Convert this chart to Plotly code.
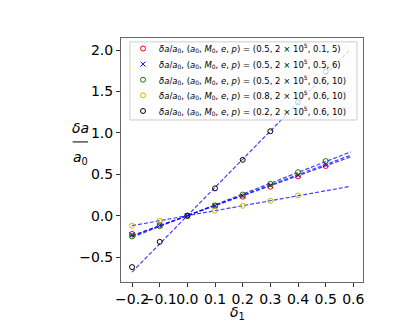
import plotly.graph_objects as go

# delta_1 values where the points were computed
delta1 = [-0.2, -0.1, 0.0, 0.1, 0.2, 0.3, 0.4, 0.5]
delta1_yellow = [-0.2, -0.1, 0.0, 0.1, 0.2, 0.3, 0.4]

# delta a / a0 for each parameter set
red_vals = [-0.22, -0.11, 0.0, 0.115, 0.23, 0.35, 0.475, 0.60]
blue_vals = [-0.23, -0.115, 0.0, 0.12, 0.24, 0.365, 0.49, 0.62]
green_vals = [-0.25, -0.125, 0.0, 0.125, 0.255, 0.385, 0.525, 0.66]
yellow_vals = [-0.12, -0.06, 0.0, 0.06, 0.12, 0.18, 0.245]
black_vals = [-0.62, -0.315, 0.0, 0.33, 0.675, 1.02, 1.37, 1.74]

# linear fit lines (endpoints)
fit_x = [-0.2, 0.59]
fit_red = [-0.24, 0.71]
fit_blue = [-0.245, 0.73]
fit_green = [-0.26, 0.77]
fit_yellow = [-0.12, 0.355]
fit_black = [-0.68, 2.01]

params = ["(0.5, 2 × 10<sup>5</sup>, 0.1, 5)",
          "(0.5, 2 × 10<sup>5</sup>, 0.5, 6)",
          "(0.5, 2 × 10<sup>5</sup>, 0.6, 10)",
          "(0.8, 2 × 10<sup>5</sup>, 0.6, 10)",
          "(0.2, 2 × 10<sup>5</sup>, 0.6, 10)"]

x_ticks = [-0.2, -0.1, 0.0, 0.1, 0.2, 0.3, 0.4, 0.5, 0.6]
x_tick_labels = ["−0.2", "−0.1", "0.0", "0.1", "0.2", "0.3", "0.4", "0.5", "0.6"]
y_ticks = [-0.5, 0.0, 0.5, 1.0, 1.5, 2.0]
y_tick_labels = ["−0.5", "0.0", "0.5", "1.0", "1.5", "2.0"]

prefix = "<i>δa</i>/<i>a</i><sub>0</sub>, (<i>a</i><sub>0</sub>, <i>M</i><sub>0</sub>, <i>e</i>, <i>p</i>) = "

series = [
    (delta1, red_vals, fit_red, "red", "circle-open"),
    (delta1, blue_vals, fit_blue, "blue", "x-thin"),
    (delta1, green_vals, fit_green, "green", "circle-open"),
    (delta1_yellow, yellow_vals, fit_yellow, "#bfbf00", "circle-open"),
    (delta1, black_vals, fit_black, "black", "circle-open"),
]

fig = go.Figure()

# fitted lines first so markers sit on top
for xs, ys, fy, col, sym in series:
    fig.add_trace(go.Scatter(x=fit_x, y=fy, mode="lines", showlegend=False,
                             line=dict(color="rgba(0,0,255,0.75)", width=1.2, dash="4px,2px")))

for (xs, ys, fy, col, sym), p in zip(series, params):
    fig.add_trace(go.Scatter(x=xs, y=ys, mode="markers", name=prefix + p, showlegend=False,
                             marker=dict(symbol=sym, color=col, size=5,
                                         line=dict(color=col, width=1))))

# compact legend drawn by hand (plotly's own legend rows are too tall here)
shapes = [dict(type="rect", xref="paper", yref="paper", x0=0.037, x1=0.975,
               y0=0.664, y1=0.984, fillcolor="rgba(255,255,255,0.8)",
               line=dict(color="#cccccc", width=1), layer="above")]
annotations = []
row_y = [0.957, 0.893, 0.829, 0.765, 0.701]
for (xs, ys, fy, col, sym), p, ry in zip(series, params, row_y):
    if sym == "x-thin":
        shapes.append(dict(type="path", xref="paper", yref="paper", xsizemode="pixel",
                           ysizemode="pixel", xanchor=0.091, yanchor=ry,
                           path="M-2.5,-2.5 L2.5,2.5 M-2.5,2.5 L2.5,-2.5",
                           line=dict(color=col, width=1), layer="above"))
    else:
        shapes.append(dict(type="circle", xref="paper", yref="paper", xsizemode="pixel",
                           ysizemode="pixel", xanchor=0.091, yanchor=ry,
                           x0=-2.5, x1=2.5, y0=-2.5, y1=2.5,
                           line=dict(color=col, width=1), layer="above"))
    annotations.append(dict(text=prefix + p, x=0.15, y=ry, xref="paper", yref="paper",
                            xanchor="left", yanchor="middle", showarrow=False,
                            font=dict(size=8.5)))

# y-axis label as a fraction
annotations += [
    dict(text="<i>δa</i>", x=-0.168, y=0.63, xref="paper", yref="paper",
         xanchor="center", showarrow=False, font=dict(size=14)),
    dict(text="<i>a</i><sub>0</sub>", x=-0.168, y=0.51, xref="paper", yref="paper",
         xanchor="center", showarrow=False, font=dict(size=14)),
    dict(text="<i>δ</i><sub>1</sub>", x=0.483, y=-0.125, xref="paper", yref="paper",
         xanchor="center", yanchor="middle", showarrow=False, font=dict(size=14)),
]
shapes.append(dict(type="line", xref="paper", yref="paper", x0=-0.2, x1=-0.136,
                   y0=0.574, y1=0.574, line=dict(color="black", width=1)))

# page body has an 8px margin, so the figure is drawn 8px smaller
fig.update_layout(
    width=395, height=315,
    margin=dict(l=113, r=40, t=30, b=41),
    paper_bgcolor="white", plot_bgcolor="white",
    font=dict(family="DejaVu Sans", color="black"),
    showlegend=False,
    annotations=annotations,
    shapes=shapes,
)

fig.update_xaxes(range=[-0.24, 0.635], tickvals=x_ticks, ticktext=x_tick_labels,
                 tickangle=0, automargin=False,
                 ticks="outside", ticklen=4, tickcolor="#333", tickfont=dict(size=14),
                 showgrid=False, zeroline=False, showline=True, mirror=True,
                 linecolor="#666", linewidth=1)
fig.update_yaxes(range=[-0.80, 2.145], tickvals=y_ticks, ticktext=y_tick_labels,
                 automargin=False,
                 ticks="outside", ticklen=4, tickcolor="#333", tickfont=dict(size=14),
                 showgrid=False, zeroline=False, showline=True, mirror=True,
                 linecolor="#666", linewidth=1)

fig.write_html("out.html")
